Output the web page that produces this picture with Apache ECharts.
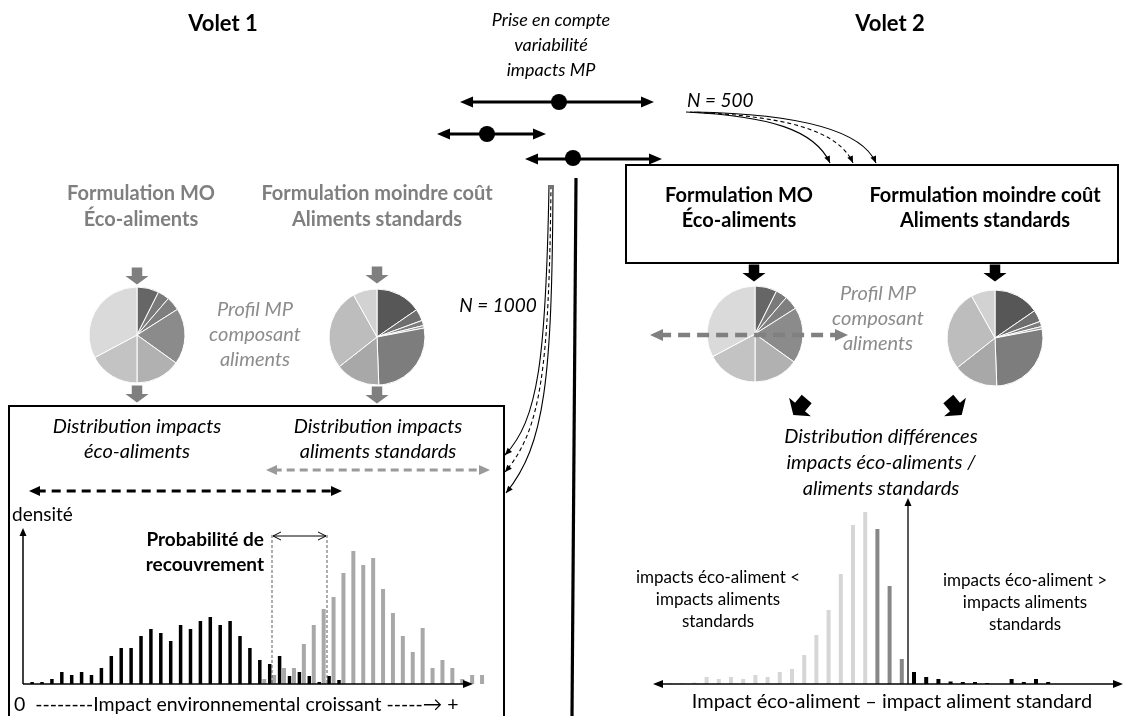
<!DOCTYPE html>
<html><head><meta charset="utf-8">
<script src="https://cdn.jsdelivr.net/npm/echarts@6/dist/echarts.min.js"></script>
<style>html,body{margin:0;padding:0;background:#fff}#c{width:1124px;height:716px}</style>
</head><body><div id="c"></div>
<script>
// ---------- DATA ----------
const volet1Bins = ['1','2','3','4','5','6','7','8','9','10','11','12','13','14','15','16','17','18','19','20','21','22','23','24','25','26','27','28','29','30','31','32','33','34','35','36','37','38','39','40','41','42','43','44','45','46'];
const volet1Eco = [2,2,5,12,9,12,9,16,28,36,36,48,55,51,43,59,55,63,67,59,63,48,36,24,20,28,8,12,8,2,8,4,null,null,null,null,null,null,null,null,null,null,null,null,null,null];
const volet1Std = [null,null,null,null,null,null,null,null,null,null,null,null,null,null,null,null,null,null,null,null,null,null,null,5,9,16,16,40,59,75,87,111,133,119,126,95,71,48,32,56,16,24,16,5,9,9];

const volet2Bins = ['1','2','3','4','5','6','7','8','9','10','11','12','13','14','15','16','17','18','19','20','21','22','23','24','25','26','27','28','29','30','31','32'];
const volet2Light = [1,1,1.5,7,5,7,5,9,7,12,15,29,49,74,110,159,172,null,null,null,null,null,null,null,null,null,null,null,null,null,null,null];
const volet2Dark = [null,null,null,null,null,null,null,null,null,null,null,null,null,null,null,null,null,155,98,25,null,null,null,null,null,null,null,null,null,null,null,null];
const volet2Black = [null,null,null,null,null,null,null,null,null,null,null,null,null,null,null,null,null,null,null,null,12,7,5,2.5,2,2,1,0,5,2,5,2];

const pieEcoShares = [7.4,3.9,4.7,18.9,15.1,17.2,32.8];
const pieStdShares = [15.4,4.0,1.75,0.86,27.4,15,27.5,8.1];

// ---------- STYLE ----------
const pieEcoColors = ['#666666','#7a7a7a','#7f7f7f','#8b8b8b','#b1b1b1','#c3c3c3','#dadada'];
const pieStdColors = ['#575757','#6e6e6e','#7c7c7c','#9a9a9a','#7d7d7d','#a8a8a8','#bdbdbd','#d2d2d2'];
const FONT = 'Lato, "Open Sans", sans-serif';

// ---------- GRAPHIC HELPERS ----------
const G = [];
function txt(s, x, y, font, fill, align) {
  G.push({type:'text', z:30, silent:true, style:{text:s, x:x, y:y, font:font + ' ' + FONT, fill:fill||'#000', textAlign:align||'center', textVerticalAlign:'middle'}});
}
function head(x, y, ang, len, half, color, z) {
  const bx = x - len*Math.cos(ang), by = y - len*Math.sin(ang);
  const nx = -Math.sin(ang), ny = Math.cos(ang);
  G.push({type:'polygon', z:z||25, silent:true, shape:{points:[[x,y],[bx+half*nx,by+half*ny],[bx-half*nx,by-half*ny]]}, style:{fill:color}});
}
function openHead(x, y, ang, len, half, color, lw) {
  const bx = x - len*Math.cos(ang), by = y - len*Math.sin(ang);
  const nx = -Math.sin(ang), ny = Math.cos(ang);
  G.push({type:'polyline', z:25, silent:true, shape:{points:[[bx+half*nx,by+half*ny],[x,y],[bx-half*nx,by-half*ny]]}, style:{stroke:color, lineWidth:lw, fill:null}});
}
function seg(x1, y1, x2, y2, color, lw, dash, z) {
  G.push({type:'line', z:z||20, silent:true, shape:{x1:x1,y1:y1,x2:x2,y2:y2}, style:{stroke:color, lineWidth:lw, lineDash:dash||null}});
}
function arrow(x1, y1, x2, y2, o) {
  const ang = Math.atan2(y2-y1, x2-x1);
  const c = Math.cos(ang), s = Math.sin(ang);
  const k = o.open ? 0 : o.len*0.7;
  const sx = o.start ? x1 + k*c : x1, sy = o.start ? y1 + k*s : y1;
  const ex = o.end ? x2 - k*c : x2, ey = o.end ? y2 - k*s : y2;
  seg(sx, sy, ex, ey, o.color, o.lw, o.dash, o.z);
  const h = o.open ? openHead : head;
  if (o.end) h(x2, y2, ang, o.len, o.half, o.color, o.open ? o.lw : o.z);
  if (o.start) h(x1, y1, ang+Math.PI, o.len, o.half, o.color, o.open ? o.lw : o.z);
}
function curve(x1, y1, c1x, c1y, c2x, c2y, x2, y2, dash) {
  G.push({type:'bezierCurve', z:20, silent:true, shape:{x1:x1,y1:y1,cpx1:c1x,cpy1:c1y,cpx2:c2x,cpy2:c2y,x2:x2,y2:y2}, style:{stroke:'#000', lineWidth:1.1, lineDash:dash||null, fill:null}});
  head(x2, y2, Math.atan2(y2-c2y, x2-c2x), 7, 3, '#000');
}
function blockArrow(x, y, rot, color, sc) {
  const k = sc || 1;
  const pts = [[-5,-8],[5,-8],[5,0],[11,0],[0,8],[-11,0],[-5,0]].map(p => [p[0]*k, p[1]*k]);
  G.push({type:'polygon', z:25, silent:true, x:x, y:y, rotation:rot, shape:{points:pts}, style:{fill:color}});
}

// ---------- TITLES ----------
txt('Volet 1', 223, 24, 'bold 22px');
txt('Volet 2', 890, 24, 'bold 22px');
txt('Prise en compte', 551, 20, 'italic 18px');
txt('variabilité', 551, 45, 'italic 18px');
txt('impacts MP', 551, 70, 'italic 18px');

// top arrows with dots
arrow(460, 102, 654, 102, {color:'#000', lw:3, len:13, half:5.5, start:true, end:true});
G.push({type:'circle', z:26, silent:true, shape:{cx:559, cy:102, r:8}, style:{fill:'#000'}});
arrow(437, 134, 546, 134, {color:'#000', lw:3, len:13, half:5.5, start:true, end:true});
G.push({type:'circle', z:26, silent:true, shape:{cx:487, cy:134, r:8}, style:{fill:'#000'}});
arrow(525, 159, 662, 159, {color:'#000', lw:3, len:13, half:5.5, start:true, end:true});
G.push({type:'circle', z:26, silent:true, shape:{cx:573, cy:158, r:8}, style:{fill:'#000'}});

// central vertical separator
seg(576, 178, 572, 716, '#000', 3.2);

// N = 500 curves
txt('N = 500', 687, 101, 'italic 19px', '#000', 'left');
curve(686, 112, 770, 116, 815, 130, 830, 163);
curve(690, 112, 785, 116, 838, 130, 853, 163, [4,3]);
curve(694, 112, 800, 114, 862, 130, 876, 163);

// N = 1000 curves
txt('N = 1000', 498, 306, 'italic 19px');
curve(549, 185, 546, 360, 538, 420, 505, 455);
curve(551, 185, 549, 370, 541, 430, 505, 472, [4,3]);
curve(553, 185, 552, 380, 545, 445, 506, 493);

// ---------- VOLET 1 ----------
txt('Formulation MO', 141, 194, 'bold 20px', '#7f7f7f');
txt('Éco-aliments', 141, 220, 'bold 20px', '#7f7f7f');
txt('Formulation moindre coût', 377, 194, 'bold 20px', '#7f7f7f');
txt('Aliments standards', 377, 220, 'bold 20px', '#7f7f7f');
blockArrow(137, 276, 0, '#7f7f7f', 1.05);
blockArrow(377, 275, 0, '#7f7f7f', 1.05);
blockArrow(137, 394, 0, '#7f7f7f', 1.05);
blockArrow(377, 395, 0, '#7f7f7f', 1.05);
txt('Profil MP', 255, 310, 'italic 20px', '#8c8c8c');
txt('composant', 255, 335, 'italic 20px', '#8c8c8c');
txt('aliments', 255, 360, 'italic 20px', '#8c8c8c');

G.push({type:'rect', z:15, silent:true, shape:{x:9, y:406, width:495, height:340}, style:{stroke:'#000', lineWidth:2, fill:null}});
txt('Distribution impacts', 137, 427, 'italic 20px');
txt('éco-aliments', 137, 452, 'italic 20px');
txt('Distribution impacts', 378, 427, 'italic 20px');
txt('aliments standards', 378, 452, 'italic 20px');
arrow(266, 470, 490, 470, {color:'#9a9a9a', lw:3, len:11, half:5, start:true, end:true, dash:[8,5]});
arrow(29, 491, 342, 491, {color:'#000', lw:3, len:11, half:5, start:true, end:true, dash:[9,6]});
txt('densité', 12, 515, '19px', '#000', 'left');
txt('Probabilité de', 264, 540, 'bold 19px', '#000', 'right');
txt('recouvrement', 264, 565, 'bold 19px', '#000', 'right');
seg(272, 535, 272, 684, '#333', 0.8, [3,2]);
seg(327, 535, 327, 684, '#333', 0.8, [3,2]);
arrow(273, 536, 326, 536, {color:'#000', lw:1, len:8, half:4, start:true, end:true, open:true});
arrow(23, 684, 23, 528, {color:'#000', lw:1.5, len:8, half:3.5, end:true});
arrow(23, 684, 473, 684, {color:'#000', lw:1.5, len:10, half:4, end:true});
txt('0  --------Impact environnemental croissant -----\u2192 +', 14, 705, '19.5px', '#000', 'left');

// ---------- VOLET 2 ----------
G.push({type:'rect', z:15, silent:true, shape:{x:626, y:165, width:492, height:98}, style:{stroke:'#000', lineWidth:2, fill:'#fff'}});
txt('Formulation MO', 739, 196, 'bold 20px');
txt('Éco-aliments', 739, 221, 'bold 20px');
txt('Formulation moindre coût', 985, 196, 'bold 20px');
txt('Aliments standards', 985, 221, 'bold 20px');
blockArrow(754, 273, 0, '#000', 1.05);
blockArrow(995, 273, 0, '#000', 1.05);
txt('Profil MP', 878, 294, 'italic 20px', '#8c8c8c');
txt('composant', 878, 319, 'italic 20px', '#8c8c8c');
txt('aliments', 878, 344, 'italic 20px', '#8c8c8c');
arrow(650, 335, 848, 335, {color:'#808080', lw:4.5, len:13, half:6, start:true, end:true, dash:[12,7], z:40});
blockArrow(800, 407, -0.7, '#000', 1.3);
blockArrow(955, 407, 0.7, '#000', 1.3);
txt('Distribution différences', 881, 437, 'italic 20px');
txt('impacts éco-aliments /', 881, 463, 'italic 20px');
txt('aliments standards', 881, 489, 'italic 20px');
txt('impacts éco-aliment <', 718, 578, '17px');
txt('impacts aliments', 718, 600, '17px');
txt('standards', 718, 622, '17px');
txt('impacts éco-aliment >', 1025, 581, '17px');
txt('impacts aliments', 1025, 603, '17px');
txt('standards', 1025, 625, '17px');
arrow(908, 684, 908, 498, {color:'#000', lw:1.3, len:8, half:3.5, end:true});
arrow(653, 684, 1123, 684, {color:'#000', lw:1.3, len:10, half:4, start:true, end:true});
txt('Impact éco-aliment \u2013 impact aliment standard', 892, 702, '20px');

// ---------- CHART ----------
const chart = echarts.init(document.getElementById('c'));
const hiddenCat = (data, gi) => ({type:'category', gridIndex:gi, data:data, boundaryGap:true, axisLine:{show:false}, axisTick:{show:false}, axisLabel:{show:false}, splitLine:{show:false}});
const hiddenVal = (max, gi) => ({type:'value', gridIndex:gi, min:0, max:max, axisLine:{show:false}, axisTick:{show:false}, axisLabel:{show:false}, splitLine:{show:false}});
const pieSeries = (center, shares, colors) => ({
  type:'pie', center:center, radius:48, startAngle:90, clockwise:true, silent:true,
  label:{show:false}, labelLine:{show:false},
  itemStyle:{borderColor:'#fff', borderWidth:1},
  data: shares.map((v,i)=>({value:v, itemStyle:{color:colors[i]}}))
});

chart.setOption({
  animation:false,
  backgroundColor:'#fff',
  grid:[
    {left:29.5, top:534, width:455.4, height:150},
    {left:663.9, top:484, width:390.4, height:200}
  ],
  xAxis:[hiddenCat(volet1Bins,0), hiddenCat(volet2Bins,1)],
  yAxis:[hiddenVal(150,0), hiddenVal(200,1)],
  series:[
    {type:'bar', name:'éco-aliments', xAxisIndex:0, yAxisIndex:0, data:volet1Eco, barWidth:3.5, barGap:'20%', itemStyle:{color:'#000'}, silent:true},
    {type:'bar', name:'aliments standards', xAxisIndex:0, yAxisIndex:0, data:volet1Std, barWidth:4, barGap:'20%', itemStyle:{color:'#a8a8a8'}, silent:true},
    {type:'bar', name:'diff < 0', xAxisIndex:1, yAxisIndex:1, data:volet2Light, barWidth:4, barGap:'-100%', itemStyle:{color:'#d6d6d6'}, silent:true},
    {type:'bar', name:'diff proche 0', xAxisIndex:1, yAxisIndex:1, data:volet2Dark, barWidth:4, barGap:'-100%', itemStyle:{color:'#878787'}, silent:true},
    {type:'bar', name:'diff > 0', xAxisIndex:1, yAxisIndex:1, data:volet2Black, barWidth:4, barGap:'-100%', itemStyle:{color:'#000'}, silent:true},
    pieSeries([137,335], pieEcoShares, pieEcoColors),
    pieSeries([377,337], pieStdShares, pieStdColors),
    pieSeries([755,334], pieEcoShares, pieEcoColors),
    pieSeries([995,338], pieStdShares, pieStdColors)
  ],
  graphic: G
});
</script>
</body></html>
